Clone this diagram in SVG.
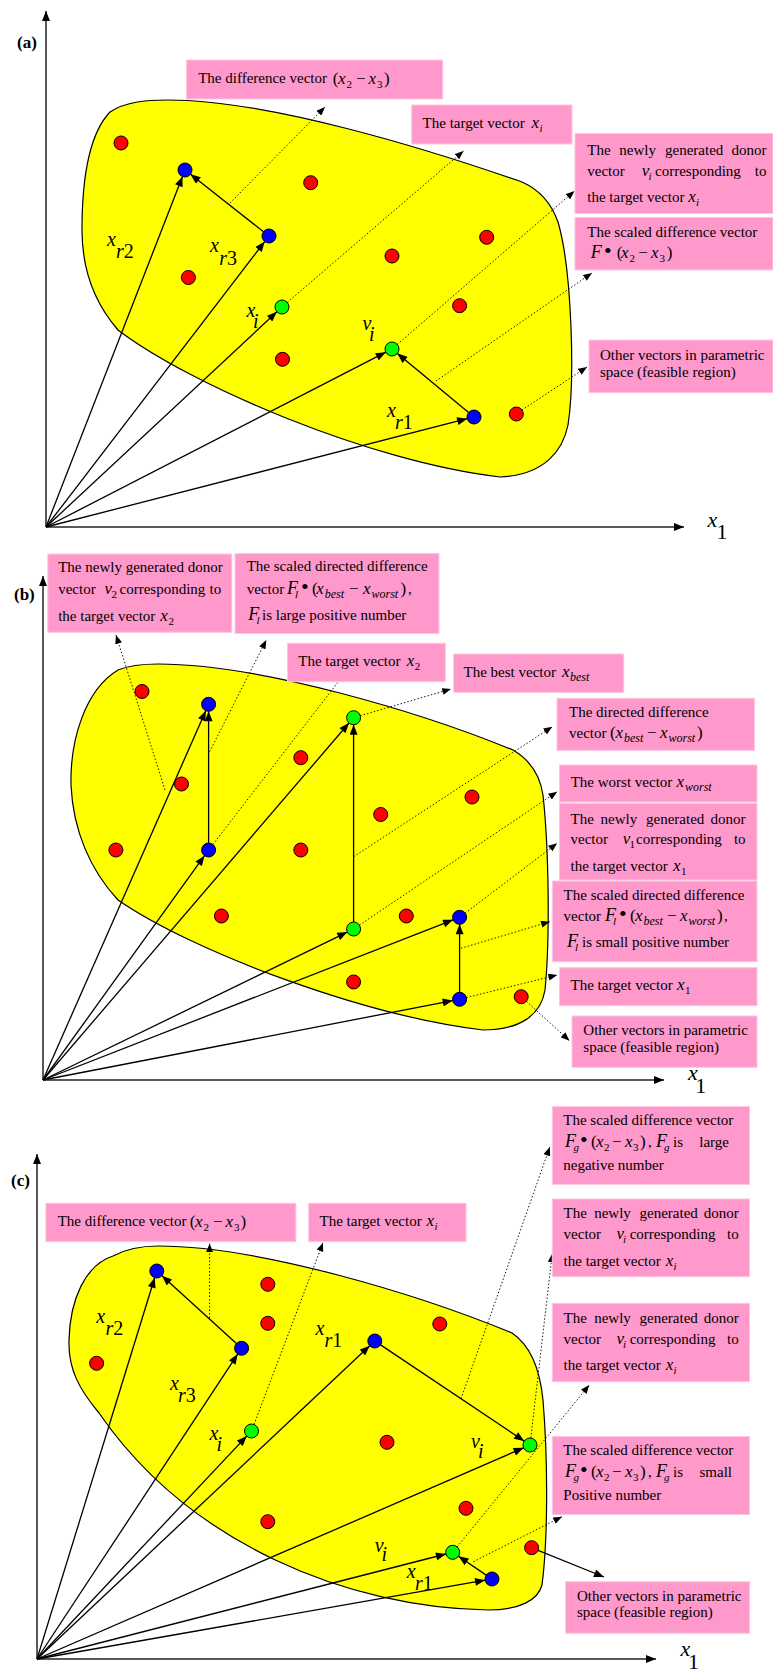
<svg xmlns="http://www.w3.org/2000/svg" width="773" height="1673" viewBox="0 0 773 1673">
<defs>
<marker id="ah" viewBox="0 0 10 8" refX="10" refY="4" markerWidth="11" markerHeight="8" orient="auto" markerUnits="userSpaceOnUse"><path d="M0,0 L10,4 L0,8 Z" fill="#000"/></marker>
<marker id="ahd" viewBox="0 0 10 8" refX="10" refY="4" markerWidth="9" markerHeight="7" orient="auto" markerUnits="userSpaceOnUse"><path d="M0,0 L10,4 L0,8 Z" fill="#000"/></marker>
</defs>
<style>
.blob{fill:#FFFF00;stroke:#000;stroke-width:1.2}
.box{fill:#FF99CC;stroke:#FFC6E2;stroke-width:1}
.r{fill:#FF0000;stroke:#000;stroke-width:1}
.b{fill:#0000FF;stroke:#000;stroke-width:1}
.g{fill:#00FF00;stroke:#000;stroke-width:1}
.axis{stroke:#222;stroke-width:1.5;fill:none;marker-end:url(#ah)}
.v{stroke:#000;stroke-width:1.3;fill:none;marker-end:url(#ah)}
.d{stroke:#000;stroke-width:0.9;stroke-dasharray:1.5 2;fill:none;marker-end:url(#ahd)}
text{font-family:"Liberation Serif","Times New Roman",serif;fill:#000}
.t{font-size:15px}
.e{font-size:17px}
.F{font-size:18px;font-style:italic}
.i{font-style:italic}
.sb{font-size:11px}
.sw{font-size:12px;font-style:italic}
.bul{font-size:22px}
.lab{font-size:20px}
.ax{font-size:22px}
.pn{font-size:17px;font-weight:bold}
</style>

<!-- ================= PANEL (a) ================= -->
<g id="panel-a">
<path id="region-a" class="blob" d="M168,100 C270,100 430,150 522,182 C540,190 552,205 558,222 C572,270 575,380 568,425 C563,450 545,475 500,477 C370,462 190,385 118,330 C92,300 82,265 82,230 C82,180 88,135 110,112 C125,102 145,100 168,100 Z"/>
<text class="pn" x="17" y="48">(a)</text>
<g id="connectors-a">
<path class="axis" d="M46,527 V11"/>
<path class="axis" d="M46,527 H684"/>
<path class="v" d="M46,527 L182.5,176.5"/>
<path class="v" d="M46,527 L264.7,241.6"/>
<path class="v" d="M46,527 L276.9,311.8"/>
<path class="v" d="M46,527 L385.8,352.2"/>
<path class="v" d="M46,527 L467.2,418.7"/>
<path class="v" d="M263.5,231.7 L190.5,174.3"/>
<path class="v" d="M468.6,412.5 L397.4,353.5"/>
<path class="d" d="M230,203 L325,107"/>
<path class="d" d="M287.3,302.4 L463.5,151"/>
<path class="d" d="M397.3,344.4 L574.5,191"/>
<path class="d" d="M436,381 L592,273"/>
<path class="d" d="M521.8,410.1 L587,367"/>
</g>
<g id="dots-a">
<circle id="a-r1" class="r" cx="121" cy="143" r="7"/>
<circle id="a-r2" class="r" cx="310.7" cy="182.7" r="7"/>
<circle id="a-r3" class="r" cx="486.7" cy="237.3" r="7"/>
<circle id="a-r4" class="r" cx="392" cy="256" r="7"/>
<circle id="a-r5" class="r" cx="188.4" cy="277.5" r="7"/>
<circle id="a-r6" class="r" cx="459.6" cy="305.7" r="7"/>
<circle id="a-r7" class="r" cx="282.5" cy="359.3" r="7"/>
<circle id="a-r8" class="r" cx="516.3" cy="414" r="7"/>
<circle id="a-xr2" class="b" cx="185" cy="170" r="7"/>
<circle id="a-xr3" class="b" cx="269" cy="236" r="7"/>
<circle id="a-xr1" class="b" cx="474" cy="417" r="7"/>
<circle id="a-xi" class="g" cx="282" cy="307" r="7"/>
<circle id="a-vi" class="g" cx="392" cy="349" r="7"/>
</g>
<g id="labels-a" class="lab">
<text><tspan x="107" y="246" class="i">x</tspan><tspan x="116" y="257.5" class="i">r</tspan><tspan>2</tspan></text>
<text><tspan x="210" y="251.7" class="i">x</tspan><tspan x="219.3" y="265" class="i">r</tspan><tspan>3</tspan></text>
<text><tspan x="246.5" y="316.7" class="i">x</tspan><tspan x="253" y="328.3" class="i">i</tspan></text>
<text><tspan x="362.4" y="330" class="i">v</tspan><tspan x="369" y="341" class="i">i</tspan></text>
<text><tspan x="387" y="416.7" class="i">x</tspan><tspan x="395" y="429" class="i">r</tspan><tspan>1</tspan></text>
</g>
<text class="ax"><tspan x="707.6" y="526.7" class="i">x</tspan><tspan x="716.5" y="538.5">1</tspan></text>
<g id="a-box-diff">
<rect class="box" x="186.4" y="60" width="256.4" height="39"/>
<text class="t" x="198.2" y="83.3">The difference vector</text>
<text class="e"><tspan x="332.8" y="84">(</tspan><tspan x="338" y="84" class="i">x</tspan><tspan x="346.5" y="88" class="sb">2</tspan><tspan x="356" y="84">−</tspan><tspan x="368.5" y="84" class="i">x</tspan><tspan x="377" y="88" class="sb">3</tspan><tspan x="384" y="84">)</tspan></text>
</g>
<g id="a-box-target">
<rect class="box" x="411.7" y="105" width="160.3" height="39"/>
<text class="t" x="422.6" y="128.3">The target vector</text>
<text class="e"><tspan x="531.6" y="128.3" class="i">x</tspan><tspan x="539.5" y="132.3" class="sb i">i</tspan></text>
</g>
<g id="a-box-donor">
<rect class="box" x="575" y="133.5" width="198" height="80"/>
<text class="t"><tspan x="587.3" y="155">The</tspan><tspan x="619.3" y="155">newly</tspan><tspan x="665" y="155">generated</tspan></text>
<text class="t" x="766.5" y="155" text-anchor="end">donor</text>
<text class="t"><tspan x="587.3" y="175.5">vector</tspan><tspan x="641.7" y="175.5" class="e i">v</tspan><tspan x="648.5" y="179.5" class="sb i">i</tspan><tspan x="655" y="175.5">corresponding</tspan></text>
<text class="t" x="766.5" y="175.5" text-anchor="end">to</text>
<text class="t"><tspan x="587.3" y="201.7">the target vector</tspan><tspan x="688.3" y="201.7" class="e i">x</tspan><tspan x="696" y="205.7" class="sb i">i</tspan></text>
</g>
<g id="a-box-scaled">
<rect class="box" x="575" y="217.5" width="198" height="52.5"/>
<text class="t" x="587.3" y="236.7">The scaled difference vector</text>
<text class="e"><tspan x="590.7" y="258.3" class="F">F</tspan><tspan x="604" y="258.3" class="bul">•</tspan><tspan x="616.7" y="258.3">(</tspan><tspan x="621" y="258.3" class="i">x</tspan><tspan x="629.5" y="262.3" class="sb">2</tspan><tspan x="638.3" y="258.3">−</tspan><tspan x="651" y="258.3" class="i">x</tspan><tspan x="659.5" y="262.3" class="sb">3</tspan><tspan x="666.7" y="258.3">)</tspan></text>
</g>
<g id="a-box-other">
<rect class="box" x="589" y="340" width="184" height="52.7"/>
<text class="t"><tspan x="600" y="359.5">Other vectors in parametric</tspan><tspan x="600" y="376.5">space (feasible region)</tspan></text>
</g>
</g>

<!-- ================= PANEL (b) ================= -->
<g id="panel-b">
<path id="region-b" class="blob" d="M158,664 C260,664 420,712 513,750 C530,760 540,775 543,795 C549,850 550,940 545,990 C541,1015 520,1030 483,1030 C360,1015 190,950 118,900 C90,870 73,830 71,785 C70,740 85,690 118,670 C130,665 145,664 158,664 Z"/>
<text class="pn" x="14" y="600">(b)</text>
<g id="connectors-b">
<path class="axis" d="M43,1080 V576"/>
<path class="axis" d="M43,1080 H664"/>
<path class="v" d="M43,1080 L205.8,710.7"/>
<path class="v" d="M43,1080 L204.5,855.7"/>
<path class="v" d="M43,1080 L349,723"/>
<path class="v" d="M43,1080 L347.3,932.1"/>
<path class="v" d="M43,1080 L453.1,919.8"/>
<path class="v" d="M43,1080 L452.7,1000.6"/>
<path class="v" d="M208.6,843 L208.6,711.3"/>
<path class="v" d="M353.6,922 L353.6,724.7"/>
<path class="v" d="M459.6,992.3 L459.6,924.3"/>
<path class="d" d="M165,790 L116,635"/>
<path class="d" d="M209.6,751.7 L266.3,640"/>
<path class="d" d="M212.9,844.5 L345,673"/>
<path class="d" d="M360.3,715.7 L451,689"/>
<path class="d" d="M353.6,856.7 L552.3,726.7"/>
<path class="d" d="M359.4,925.1 L557.2,791.7"/>
<path class="d" d="M465.2,913.1 L557.2,843.3"/>
<path class="d" d="M461,948.3 L549.8,921.7"/>
<path class="d" d="M466.4,997.6 L557.2,975"/>
<path class="d" d="M526.4,1001.4 L569.5,1040.7"/>
</g>
<g id="dots-b">
<circle id="b-r1" class="r" cx="142" cy="691.5" r="7"/>
<circle id="b-r2" class="r" cx="181.5" cy="784" r="7"/>
<circle id="b-r3" class="r" cx="300.8" cy="757.7" r="7"/>
<circle id="b-r4" class="r" cx="472" cy="797" r="7"/>
<circle id="b-r5" class="r" cx="380.7" cy="814.5" r="7"/>
<circle id="b-r6" class="r" cx="115.9" cy="850" r="7"/>
<circle id="b-r7" class="r" cx="300.8" cy="850" r="7"/>
<circle id="b-r8" class="r" cx="221.4" cy="916" r="7"/>
<circle id="b-r9" class="r" cx="406.3" cy="916" r="7"/>
<circle id="b-r10" class="r" cx="353.6" cy="982" r="7"/>
<circle id="b-r11" class="r" cx="521.2" cy="996.7" r="7"/>
<circle id="b-v2" class="b" cx="208.6" cy="704.3" r="7"/>
<circle id="b-x2" class="b" cx="208.6" cy="850" r="7"/>
<circle id="b-v1" class="b" cx="459.6" cy="917.3" r="7"/>
<circle id="b-x1" class="b" cx="459.6" cy="999.3" r="7"/>
<circle id="b-best" class="g" cx="353.6" cy="717.7" r="7"/>
<circle id="b-worst" class="g" cx="353.6" cy="929" r="7"/>
</g>
<text class="ax"><tspan x="688" y="1080" class="i">x</tspan><tspan x="695.3" y="1093.3">1</tspan></text>
<g id="b-box-donor2">
<rect class="box" x="47.8" y="554" width="184" height="78.3"/>
<text class="t" x="58.2" y="571.5">The newly generated donor</text>
<text class="t"><tspan x="58.2" y="594.3">vector</tspan><tspan x="104.5" y="594.3" class="e i">v</tspan><tspan x="111.5" y="598.3" class="sb">2</tspan><tspan x="119.5" y="594.3">corresponding</tspan><tspan x="209.6" y="594.3">to</tspan></text>
<text class="t"><tspan x="58.2" y="620.5">the target vector</tspan><tspan x="160.3" y="620.5" class="e i">x</tspan><tspan x="168.6" y="624.5" class="sb">2</tspan></text>
</g>
<g id="b-box-scaled-large">
<rect class="box" x="235" y="553.5" width="204" height="80"/>
<text class="t" x="246.7" y="570.7">The scaled directed difference</text>
<text class="t"><tspan x="246.7" y="594.3">vector</tspan><tspan x="287" y="594.3" class="F">F</tspan><tspan x="295" y="598.3" class="sb i">l</tspan><tspan x="301" y="594.3" class="bul">•</tspan><tspan x="312" y="594.3" class="e">(</tspan><tspan x="316.3" y="594.3" class="e i">x</tspan><tspan x="324.7" y="598.3" class="sw">best</tspan><tspan x="349" y="594.3" class="e">−</tspan><tspan x="363" y="594.3" class="e i">x</tspan><tspan x="371.5" y="598.3" class="sw">worst</tspan><tspan x="400.5" y="594.3" class="e">)</tspan><tspan x="408" y="594.3">,</tspan></text>
<text class="t"><tspan x="248.3" y="620" class="F">F</tspan><tspan x="256.5" y="624" class="sb i">l</tspan><tspan x="262" y="620">is large positive number</tspan></text>
</g>
<g id="b-box-target2">
<rect class="box" x="287.5" y="643.3" width="157.8" height="38.4"/>
<text class="t" x="298.3" y="666">The target vector</text>
<text class="e"><tspan x="406.8" y="666" class="i">x</tspan><tspan x="414.8" y="670" class="sb">2</tspan></text>
</g>
<g id="b-box-best">
<rect class="box" x="453.6" y="654" width="170.2" height="38.3"/>
<text class="t" x="463.5" y="676.7">The best vector</text>
<text class="e"><tspan x="562" y="676.7" class="i">x</tspan><tspan x="570" y="680.7" class="sw">best</tspan></text>
</g>
<g id="b-box-directed">
<rect class="box" x="557" y="698.3" width="197.4" height="52"/>
<text class="t" x="569" y="716.7">The directed difference</text>
<text class="t"><tspan x="569" y="738.3">vector</tspan><tspan x="610" y="738.3" class="e">(</tspan><tspan x="615.5" y="738.3" class="e i">x</tspan><tspan x="624" y="742.3" class="sw">best</tspan><tspan x="647" y="738.3" class="e">−</tspan><tspan x="660" y="738.3" class="e i">x</tspan><tspan x="668.5" y="742.3" class="sw">worst</tspan><tspan x="697" y="738.3" class="e">)</tspan></text>
</g>
<g id="b-box-worst">
<rect class="box" x="559.5" y="765" width="197.5" height="37"/>
<text class="t" x="570.7" y="786.7">The worst vector</text>
<text class="e"><tspan x="676.5" y="786.7" class="i">x</tspan><tspan x="685" y="790.7" class="sw">worst</tspan></text>
</g>
<g id="b-box-donor1">
<rect class="box" x="559.5" y="803.3" width="197.5" height="76.7"/>
<text class="t"><tspan x="570.5" y="824">The</tspan><tspan x="600.6" y="824">newly</tspan><tspan x="646" y="824">generated</tspan></text>
<text class="t" x="745.6" y="824" text-anchor="end">donor</text>
<text class="t"><tspan x="570.5" y="844.3">vector</tspan><tspan x="622.8" y="844.3" class="e i">v</tspan><tspan x="629.5" y="848.3" class="sb">1</tspan><tspan x="636" y="844.3">corresponding</tspan></text>
<text class="t" x="745.6" y="844.3" text-anchor="end">to</text>
<text class="t"><tspan x="570.5" y="871">the target vector</tspan><tspan x="673" y="871" class="e i">x</tspan><tspan x="681" y="875" class="sb">1</tspan></text>
</g>
<g id="b-box-scaled-small">
<rect class="box" x="552.3" y="881" width="204.7" height="80.7"/>
<text class="t" x="563.6" y="900">The scaled directed difference</text>
<text class="t"><tspan x="563.6" y="920.7">vector</tspan><tspan x="605" y="920.7" class="F">F</tspan><tspan x="613" y="924.7" class="sb i">l</tspan><tspan x="619" y="920.7" class="bul">•</tspan><tspan x="630" y="920.7" class="e">(</tspan><tspan x="635" y="920.7" class="e i">x</tspan><tspan x="643.5" y="924.7" class="sw">best</tspan><tspan x="667" y="920.7" class="e">−</tspan><tspan x="680" y="920.7" class="e i">x</tspan><tspan x="688.5" y="924.7" class="sw">worst</tspan><tspan x="717" y="920.7" class="e">)</tspan><tspan x="724" y="920.7">,</tspan></text>
<text class="t"><tspan x="567" y="946.7" class="F">F</tspan><tspan x="575" y="950.7" class="sb i">l</tspan><tspan x="582" y="946.7">is small positive number</tspan></text>
</g>
<g id="b-box-target1">
<rect class="box" x="559.5" y="967.7" width="197.5" height="38"/>
<text class="t" x="570.5" y="990">The target vector</text>
<text class="e"><tspan x="677" y="990" class="i">x</tspan><tspan x="685" y="994" class="sb">1</tspan></text>
</g>
<g id="b-box-other">
<rect class="box" x="572" y="1016" width="185" height="51.3"/>
<text class="t"><tspan x="583.3" y="1035">Other vectors in parametric</tspan><tspan x="583.3" y="1051.7">space (feasible region)</tspan></text>
</g>
</g>

<!-- ================= PANEL (c) ================= -->
<g id="panel-c">
<path id="region-c" class="blob" d="M158,1246 C260,1246 420,1295 512,1333 C530,1345 540,1370 543,1400 C548,1460 548,1540 542,1585 C538,1600 520,1610 488,1610 C350,1608 190,1545 99,1413 C80,1390 68,1370 69,1340 C70,1300 85,1265 113,1256 C128,1248 145,1246 158,1246 Z"/>
<text class="pn" x="11" y="1186">(c)</text>
<g id="connectors-c">
<path class="axis" d="M37,1659 V1154"/>
<path class="axis" d="M37,1659 H656"/>
<path class="v" d="M37,1659 L154.7,1277.7"/>
<path class="v" d="M37,1659 L237.7,1354.1"/>
<path class="v" d="M37,1659 L246.7,1436.1"/>
<path class="v" d="M37,1659 L369.7,1345.8"/>
<path class="v" d="M37,1659 L523.6,1447.8"/>
<path class="v" d="M37,1659 L445.9,1554"/>
<path class="v" d="M37,1659 L485.1,1580.2"/>
<path class="v" d="M236.4,1343.6 L162,1275.7"/>
<path class="v" d="M380.6,1344.9 L524.2,1441.1"/>
<path class="v" d="M486.2,1575.1 L458.5,1556.2"/>
<path class="v" d="M538.1,1550.3 L604,1577"/>
<path class="d" d="M209.6,1318 L209.6,1243.5"/>
<path class="d" d="M254,1424.5 L323,1242.7"/>
<path class="d" d="M461,1398.8 L549.8,1147"/>
<path class="d" d="M530.8,1438 L552.3,1253.5"/>
<path class="d" d="M457.1,1546.9 L589.3,1385"/>
<path class="d" d="M473.4,1561.7 L562,1516.7"/>
</g>
<g id="dots-c">
<circle id="c-r1" class="r" cx="267.8" cy="1284.3" r="7"/>
<circle id="c-r2" class="r" cx="267.8" cy="1323.3" r="7"/>
<circle id="c-r3" class="r" cx="439.8" cy="1324" r="7"/>
<circle id="c-r4" class="r" cx="96.6" cy="1363.3" r="7"/>
<circle id="c-r5" class="r" cx="387" cy="1442.3" r="7"/>
<circle id="c-r6" class="r" cx="466" cy="1508.3" r="7"/>
<circle id="c-r7" class="r" cx="267.8" cy="1521.7" r="7"/>
<circle id="c-r8" class="r" cx="531.6" cy="1547.7" r="7"/>
<circle id="c-xr2" class="b" cx="156.8" cy="1271" r="7"/>
<circle id="c-xr3" class="b" cx="241.6" cy="1348.3" r="7"/>
<circle id="c-xr1a" class="b" cx="374.8" cy="1341" r="7"/>
<circle id="c-xr1b" class="b" cx="492" cy="1579" r="7"/>
<circle id="c-xi" class="g" cx="251.5" cy="1431" r="7"/>
<circle id="c-via" class="g" cx="530" cy="1445" r="7"/>
<circle id="c-vib" class="g" cx="452.7" cy="1552.3" r="7"/>
</g>
<g id="labels-c" class="lab">
<text><tspan x="96.2" y="1323.3" class="i">x</tspan><tspan x="105.5" y="1335" class="i">r</tspan><tspan>2</tspan></text>
<text><tspan x="170" y="1390" class="i">x</tspan><tspan x="178" y="1401.7" class="i">r</tspan><tspan>3</tspan></text>
<text><tspan x="315.6" y="1335" class="i">x</tspan><tspan x="324.5" y="1346.7" class="i">r</tspan><tspan>1</tspan></text>
<text><tspan x="209.6" y="1440" class="i">x</tspan><tspan x="216.5" y="1450.5" class="i">i</tspan></text>
<text><tspan x="471" y="1448.3" class="i">v</tspan><tspan x="478" y="1457.5" class="i">i</tspan></text>
<text><tspan x="374.8" y="1551.7" class="i">v</tspan><tspan x="381.5" y="1560.5" class="i">i</tspan></text>
<text><tspan x="406.8" y="1578.3" class="i">x</tspan><tspan x="415" y="1590" class="i">r</tspan><tspan>1</tspan></text>
</g>
<text class="ax"><tspan x="680.5" y="1656" class="i">x</tspan><tspan x="688" y="1668.5">1</tspan></text>
<g id="c-box-scaled-large">
<rect class="box" x="552.3" y="1106.5" width="197.2" height="78"/>
<text class="t" x="563.3" y="1125">The scaled difference vector</text>
<text class="t"><tspan x="565" y="1146.7" class="F">F</tspan><tspan x="573.5" y="1151.2" class="sb i">g</tspan><tspan x="580" y="1146.7" class="bul">•</tspan><tspan x="591" y="1146.7" class="e">(</tspan><tspan x="596" y="1146.7" class="e i">x</tspan><tspan x="604" y="1150.7" class="sb">2</tspan><tspan x="612" y="1146.7" class="e">−</tspan><tspan x="625" y="1146.7" class="e i">x</tspan><tspan x="633" y="1150.7" class="sb">3</tspan><tspan x="640" y="1146.7" class="e">)</tspan><tspan x="648" y="1146.7">,</tspan><tspan x="656" y="1146.7" class="F">F</tspan><tspan x="664" y="1151.2" class="sb i">g</tspan><tspan x="673" y="1146.7">is</tspan></text>
<text class="t" x="729" y="1146.7" text-anchor="end">large</text>
<text class="t" x="563.3" y="1170">negative number</text>
</g>
<g id="c-box-donor1">
<rect class="box" x="552.3" y="1199" width="197.2" height="77.7"/>
<text class="t"><tspan x="563.6" y="1218.3">The</tspan><tspan x="594.2" y="1218.3">newly</tspan><tspan x="639.5" y="1218.3">generated</tspan></text>
<text class="t" x="738.7" y="1218.3" text-anchor="end">donor</text>
<text class="t"><tspan x="563.6" y="1239.3">vector</tspan><tspan x="616.4" y="1239.3" class="e i">v</tspan><tspan x="623" y="1243.3" class="sb i">i</tspan><tspan x="629.7" y="1239.3">corresponding</tspan></text>
<text class="t" x="738.7" y="1239.3" text-anchor="end">to</text>
<text class="t"><tspan x="563.6" y="1265.7">the target vector</tspan><tspan x="665.7" y="1265.7" class="e i">x</tspan><tspan x="673.5" y="1269.7" class="sb i">i</tspan></text>
</g>
<g id="c-box-donor2">
<rect class="box" x="552.3" y="1303.3" width="197.2" height="78.4"/>
<text class="t"><tspan x="563.6" y="1322.7">The</tspan><tspan x="594.2" y="1322.7">newly</tspan><tspan x="639.5" y="1322.7">generated</tspan></text>
<text class="t" x="738.7" y="1322.7" text-anchor="end">donor</text>
<text class="t"><tspan x="563.6" y="1343.7">vector</tspan><tspan x="616.4" y="1343.7" class="e i">v</tspan><tspan x="623" y="1347.7" class="sb i">i</tspan><tspan x="629.7" y="1343.7">corresponding</tspan></text>
<text class="t" x="738.7" y="1343.7" text-anchor="end">to</text>
<text class="t"><tspan x="563.6" y="1370">the target vector</tspan><tspan x="665.7" y="1370" class="e i">x</tspan><tspan x="673.5" y="1374" class="sb i">i</tspan></text>
</g>
<g id="c-box-scaled-small">
<rect class="box" x="552.3" y="1436.5" width="197.2" height="78"/>
<text class="t" x="563.3" y="1455.3">The scaled difference vector</text>
<text class="t"><tspan x="565" y="1476.7" class="F">F</tspan><tspan x="573.5" y="1481.2" class="sb i">g</tspan><tspan x="580" y="1476.7" class="bul">•</tspan><tspan x="591" y="1476.7" class="e">(</tspan><tspan x="596" y="1476.7" class="e i">x</tspan><tspan x="604" y="1480.7" class="sb">2</tspan><tspan x="612" y="1476.7" class="e">−</tspan><tspan x="625" y="1476.7" class="e i">x</tspan><tspan x="633" y="1480.7" class="sb">3</tspan><tspan x="640" y="1476.7" class="e">)</tspan><tspan x="648" y="1476.7">,</tspan><tspan x="656" y="1476.7" class="F">F</tspan><tspan x="664" y="1481.2" class="sb i">g</tspan><tspan x="673" y="1476.7">is</tspan></text>
<text class="t" x="732" y="1476.7" text-anchor="end">small</text>
<text class="t" x="563.3" y="1500">Positive number</text>
</g>
<g id="c-box-other">
<rect class="box" x="565.6" y="1581.7" width="184" height="51.6"/>
<text class="t"><tspan x="577" y="1600.7">Other vectors in parametric</tspan><tspan x="577" y="1617.3">space (feasible region)</tspan></text>
</g>
<g id="c-box-diff">
<rect class="box" x="45.9" y="1203.3" width="250" height="38.4"/>
<text class="t" x="57.7" y="1226">The difference vector</text>
<text class="e"><tspan x="189.8" y="1226.5">(</tspan><tspan x="195" y="1226.5" class="i">x</tspan><tspan x="203.5" y="1230.5" class="sb">2</tspan><tspan x="213" y="1226.5">−</tspan><tspan x="225.5" y="1226.5" class="i">x</tspan><tspan x="234" y="1230.5" class="sb">3</tspan><tspan x="240.5" y="1226.5">)</tspan></text>
</g>
<g id="c-box-target">
<rect class="box" x="308.7" y="1203.3" width="157.3" height="38.4"/>
<text class="t" x="319.5" y="1226">The target vector</text>
<text class="e"><tspan x="426.5" y="1226" class="i">x</tspan><tspan x="434.5" y="1230" class="sb i">i</tspan></text>
</g>
</g>
</svg>
